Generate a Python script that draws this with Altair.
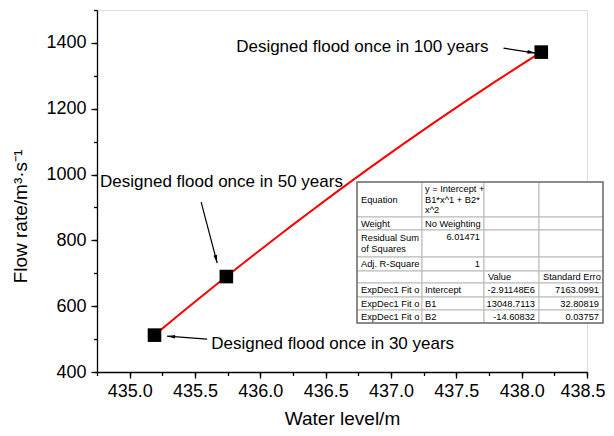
import altair as alt
import pandas as pd

# ---------------- data ----------------
level = [435.19, 435.74, 438.15]
flow = [512, 690, 1372]

ann_text = [
    "Designed flood once in 100 years",
    "Designed flood once in 50 years",
    "Designed flood once in 30 years",
]
ann_x = [435.815, 434.773, 435.624]
ann_y = [1388, 977, 485]

arrow_x0 = [437.861, 435.547, 435.593]
arrow_y0 = [1384, 916, 500]
arrow_x1 = [438.106, 435.670, 435.286]
arrow_y1 = [1369, 731, 509]
arrow_angle = [98.9, 165.3, 274.3]

x_major = [435.0, 435.5, 436.0, 436.5, 437.0, 437.5, 438.0, 438.5]
x_minor = [434.75, 435.0, 435.25, 435.5, 435.75, 436.0, 436.25, 436.5, 436.75,
           437.0, 437.25, 437.5, 437.75, 438.0, 438.25, 438.5]
y_major = [400, 600, 800, 1000, 1200, 1400]
y_minor = [400, 500, 600, 700, 800, 900, 1000, 1100, 1200, 1300, 1400, 1500]

tbl_row = [0, 0, 1, 1, 2, 2, 3, 3, 4, 4,
           5, 5, 5, 5, 6, 6, 6, 6, 7, 7, 7, 7]
tbl_col = [0, 1, 0, 1, 0, 1, 0, 1, 2, 3,
           0, 1, 2, 3, 0, 1, 2, 3, 0, 1, 2, 3]
tbl_text = [
    "Equation", "y = Intercept +\nB1*x^1 + B2*\nx^2",
    "Weight", "No Weighting",
    "Residual Sum\nof Squares", "6.01471",
    "Adj. R-Square", "1",
    "Value", "Standard Erro",
    "ExpDec1 Fit o", "Intercept", "-2.91148E6", "7163.0991",
    "ExpDec1 Fit o", "B1", "13048.7113", "32.80819",
    "ExpDec1 Fit o", "B2", "-14.60832", "0.03757",
]
tbl_align = ["left", "left", "left", "left", "left", "right", "left", "right", "left", "left",
             "left", "left", "right", "right", "left", "left", "right", "right",
             "left", "left", "right", "right"]
tbl_valign = ["mid", "mid", "mid", "mid", "mid", "top", "mid", "mid", "mid", "mid",
              "mid", "mid", "mid", "mid", "mid", "mid", "mid", "mid",
              "mid", "mid", "mid", "mid"]

# ---------------- layout / style ----------------
FONT = "Liberation Sans"
COL_EDGES = [260, 325, 387, 442, 506]          # pixel, relative to plot area
ROW_EDGES = [172, 207, 220, 247, 261, 273, 287, 300, 313]
LINE_H = 10.5

pts = pd.DataFrame({"level": level, "flow": flow})
ann = pd.DataFrame({"text": ann_text, "x": ann_x, "y": ann_y})
arr = pd.DataFrame({"x0": arrow_x0, "y0": arrow_y0, "x1": arrow_x1,
                    "y1": arrow_y1, "angle": arrow_angle})

cells = []
for r in range(len(ROW_EDGES) - 1):
    for c in range(len(COL_EDGES) - 1):
        cells.append({"x": COL_EDGES[c], "x2": COL_EDGES[c + 1],
                      "y": ROW_EDGES[r], "y2": ROW_EDGES[r + 1]})
cells = pd.DataFrame(cells)
outer = pd.DataFrame({"x": [COL_EDGES[0]], "x2": [COL_EDGES[-1]],
                      "y": [ROW_EDGES[0]], "y2": [ROW_EDGES[-1]]})

rows = []
for r, c, t, a, v in zip(tbl_row, tbl_col, tbl_text, tbl_align, tbl_valign):
    if a == "left":
        px = COL_EDGES[c] + (3 if c == 1 else 4)
    else:
        px = COL_EDGES[c + 1] - 4
    n = t.count("\n") + 1
    if v == "mid":
        py = (ROW_EDGES[r] + ROW_EDGES[r + 1]) / 2 - (n - 1) * LINE_H / 2
    else:
        py = ROW_EDGES[r] + 7
    rows.append({"text": t, "align": a, "px": px, "py": py})
tbl = pd.DataFrame(rows)

x_scale = alt.Scale(domain=[434.75, 438.5], nice=False, zero=False)
y_scale = alt.Scale(domain=[400, 1500], nice=False, zero=False)

x_axis_major = alt.Axis(
    values=x_major, format=".1f", orient="bottom", grid=False,
    tickSize=6, tickWidth=1.3, tickColor="black",
    domainColor="black", domainWidth=1.3,
    labelFont=FONT, labelFontSize=18, labelColor="black", labelPadding=4,
    labelFlush=1, labelFlushOffset=18, labelOverlap=False,
    title="Water level/m", titleFont=FONT, titleFontSize=19,
    titleFontWeight="normal", titleColor="black",
    titleY=52, titleBaseline="alphabetic",
)
y_axis_major = alt.Axis(
    values=y_major, format="d", orient="left", grid=False,
    tickSize=6, tickWidth=1.3, tickColor="black",
    domainColor="black", domainWidth=1.3,
    labelFont=FONT, labelFontSize=18, labelColor="black", labelPadding=5,
    labelFlush=False, labelOverlap=False,
    title="Flow rate/m³·s⁻¹", titleFont=FONT, titleFontSize=19,
    titleFontWeight="normal", titleColor="black",
    titleAngle=270, titleX=-77, titleY=206, titleBaseline="middle",
    titleAlign="center",
)
x_axis_minor = alt.Axis(values=x_minor, orient="bottom", grid=False, labels=False,
                        domain=False, tickSize=3.5, tickWidth=1.3,
                        tickColor="black", title=None)
y_axis_minor = alt.Axis(values=y_minor, orient="left", grid=False, labels=False,
                        domain=False, tickSize=3.5, tickWidth=1.3,
                        tickColor="black", title=None)

minor = alt.Chart(pts).mark_point(opacity=0).encode(
    x=alt.X("level:Q", scale=x_scale, axis=x_axis_minor),
    y=alt.Y("flow:Q", scale=y_scale, axis=y_axis_minor),
)

fit = alt.Chart(pts).transform_regression(
    "level", "flow", method="poly", order=2
).mark_line(color="#ff0000", strokeWidth=2).encode(
    x=alt.X("level:Q", scale=x_scale, axis=None),
    y=alt.Y("flow:Q", scale=y_scale, axis=None),
)

points = alt.Chart(pts).mark_square(size=185, color="black", opacity=1).encode(
    x=alt.X("level:Q", scale=x_scale, axis=x_axis_major),
    y=alt.Y("flow:Q", scale=y_scale, axis=y_axis_major),
)

arrows = alt.Chart(arr).mark_rule(color="black", strokeWidth=1.2).encode(
    x=alt.X("x0:Q", scale=x_scale, axis=None),
    y=alt.Y("y0:Q", scale=y_scale, axis=None),
    x2="x1:Q", y2="y1:Q",
)

heads = alt.Chart(arr).mark_point(
    shape="M0,0L0.38,1.7L-0.38,1.7Z", filled=True, color="black",
    opacity=1, size=90,
).encode(
    x=alt.X("x1:Q", scale=x_scale, axis=None),
    y=alt.Y("y1:Q", scale=y_scale, axis=None),
    angle=alt.Angle("angle:Q", scale=None),
)

labels = alt.Chart(ann).mark_text(
    align="left", baseline="middle", font=FONT, fontSize=17, color="black"
).encode(
    x=alt.X("x:Q", scale=x_scale, axis=None),
    y=alt.Y("y:Q", scale=y_scale, axis=None),
    text="text:N",
)

grid_cells = alt.Chart(cells).mark_rect(
    fill="white", stroke="#b8b8b8", strokeWidth=1
).encode(
    x=alt.X("x:Q", scale=None, axis=None), x2="x2:Q",
    y=alt.Y("y:Q", scale=None, axis=None), y2="y2:Q",
)

border = alt.Chart(outer).mark_rect(
    fillOpacity=0, stroke="#707070", strokeWidth=1.5
).encode(
    x=alt.X("x:Q", scale=None, axis=None), x2="x2:Q",
    y=alt.Y("y:Q", scale=None, axis=None), y2="y2:Q",
)

def tbl_text_layer(al):
    return alt.Chart(tbl).transform_filter(
        alt.datum.align == al
    ).mark_text(
        align=al, baseline="middle", font=FONT, fontSize=9.3, color="black",
        lineBreak="\n", lineHeight=LINE_H,
    ).encode(
        x=alt.X("px:Q", scale=None, axis=None),
        y=alt.Y("py:Q", scale=None, axis=None),
        text="text:N",
    )

chart = alt.layer(
    minor, fit, points, arrows, heads, labels,
    grid_cells, border, tbl_text_layer("left"), tbl_text_layer("right"),
).resolve_axis(
    x="independent", y="independent"
).properties(
    width=490, height=362,
    autosize=alt.AutoSizeParams(type="none"),
    padding={"left": 89, "top": 2, "right": 19, "bottom": 56},
).configure_view(stroke=None).configure(background="white")

chart.save("out.html", embed_options={"renderer": "svg", "actions": False})
